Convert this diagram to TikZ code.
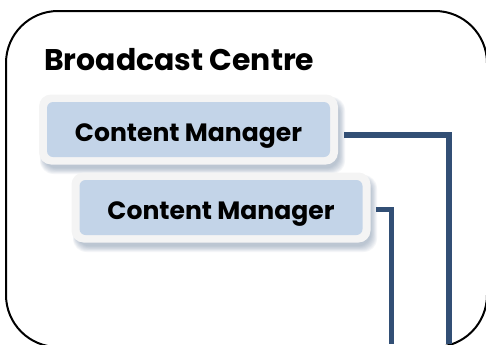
\documentclass[tikz,border=0pt]{standalone}
\usepackage{fontspec}
\setmainfont{Poppins}
\definecolor{linkblue}{HTML}{324F75}
\definecolor{innerblue}{HTML}{C3D4E8}
\definecolor{outerpale}{HTML}{F4F4F4}
\definecolor{shadowblue}{HTML}{5A7492}
\tikzset{
  px/.style={x=0.75pt,y=-0.75pt},
  frame/.style={draw=black,line width=1.5pt,rounded corners=39pt},
  outerbox/.style={fill=outerpale,rounded corners=9pt,minimum width=224.25pt,minimum height=52.5pt,inner sep=0pt},
  innerbox/.style={fill=innerblue,rounded corners=4.5pt,minimum width=212.25pt,minimum height=41.25pt,inner sep=0pt},
  boxtext/.style={font=\fontsize{18.8pt}{20pt}\selectfont\bfseries,text=black,inner sep=0pt,anchor=base},
  titletext/.style={font=\fontsize{22.4pt}{24pt}\selectfont\bfseries,text=black,inner sep=0pt,anchor=base west},
  link/.style={draw=linkblue,line width=4pt}
}
\newcommand{\softshadow}[4]{%
  \foreach \g in {0,1,...,7}{
    \fill[shadowblue,opacity=0.06,rounded corners=10pt]
      ({#1+1+\g*0.5},{#2+3+\g*0.5}) rectangle ({#3+7-\g*0.8},{#4+9-\g*0.8});
  }%
}
\begin{document}
\begin{tikzpicture}[px]
\clip (0,0) rectangle (486,344);
\fill[white] (0,0) rectangle (486,344);
\draw[frame] (6,11) rectangle (487,347);
\node[titletext] (title) at (44,70) {Broadcast Centre};
\softshadow{39}{94}{338}{165}
\node[outerbox] (o1) at (188.5,129.5) {};
\node[innerbox] (b1) at (188.5,129.5) {};
\node[boxtext] (t1) at (188.5,141) {Content Manager};
\softshadow{72}{172}{370}{243}
\node[outerbox] (o2) at (221,207.5) {};
\node[innerbox] (b2) at (221,207.5) {};
\node[boxtext] (t2) at (221,219) {Content Manager};
\coordinate (e1) at (449,344);
\coordinate (e2) at (391.5,344);
\draw[link] ([xshift=4.5pt,yshift=-4.1pt]o1.east) -| (e1);
\draw[link] ([xshift=3.75pt,yshift=-1.3pt]o2.east) -| (e2);
\end{tikzpicture}
\end{document}
